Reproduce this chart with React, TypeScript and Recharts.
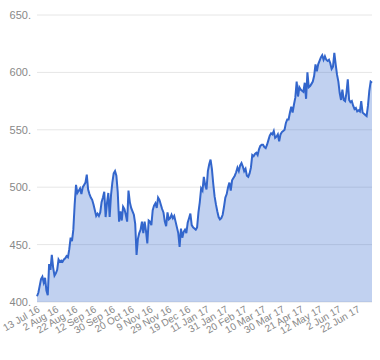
import { AreaChart, Area, XAxis, YAxis, CartesianGrid } from 'recharts';

const dateLabels = [
  '13 Jul 16', '2 Aug 16', '22 Aug 16', '12 Sep 16', '30 Sep 16', '20 Oct 16',
  '9 Nov 16', '29 Nov 16', '19 Dec 16', '11 Jan 17', '31 Jan 17', '20 Feb 17',
  '10 Mar 17', '30 Mar 17', '21 Apr 17', '12 May 17', '2 Jun 17', '22 Jun 17',
];

// one close per trading day, starting 13 Jul 16
const closes = [
  405, 408, 414, 420, 422, 417, 421, 410, 406, 433,
  428, 441, 430, 423, 425, 428, 437, 435, 436, 435,
  437, 438, 440, 439, 446, 456, 453, 463, 485, 502,
  495, 497, 499, 494, 500, 502, 504, 511, 498, 494,
  491, 489, 485, 480, 475, 477, 475, 478, 487, 491,
  496, 474, 486, 495, 474, 493, 504, 512, 514, 510,
  496, 470, 479, 471, 483, 481, 476, 470, 497, 487,
  482, 479, 476, 468, 441, 455, 460, 463, 470, 460,
  470, 462, 451, 471, 470, 467, 480, 484, 486, 482,
  491, 489, 485, 481, 478, 470, 466, 478, 472, 473,
  476, 473, 475, 470, 465, 460, 448, 464, 456, 461,
  463, 460, 469, 473, 477, 467, 465, 464, 463, 465,
  478, 487, 499, 497, 509, 502, 498, 514, 520, 524,
  516, 503, 492, 485, 479, 474, 472, 473, 476, 483,
  491, 494, 500, 504, 497, 506, 508, 510, 513, 517,
  514, 519, 521, 518, 514, 516, 510, 509, 512, 517,
  528, 527, 529, 530, 528, 533, 536, 537, 537, 535,
  534, 537, 541, 545, 547, 546, 549, 543, 544, 546,
  540, 546, 548, 549, 550, 556, 559, 559, 565, 570,
  565, 572, 578, 592, 579, 587, 585, 584, 583, 591,
  577, 600, 587, 588, 590, 592, 597, 607, 601, 607,
  610, 613, 615, 611, 614, 611, 610, 611, 608, 603,
  605, 617, 607, 598, 592, 582, 576, 585, 576, 575,
  582, 594, 576, 574, 575, 571, 568, 569, 566, 567,
  566, 575, 565, 564, 563, 562, 571, 584, 592, 591,
];

const yTicks = [400, 450, 500, 550, 600, 650];
const labelStep = 14;

const data = closes.map((v, i) => ({ i, v }));
const xTicks = dateLabels.map((_, k) => k * labelStep);

const font = 'Arial, "Liberation Sans", sans-serif';

export default function App() {
  return (
    <div style={{ position: 'fixed', left: 0, top: 0, background: '#fff' }}>
      <AreaChart width={380} height={360} data={data} margin={{ top: 15, right: 8, left: 0, bottom: 0 }}>
        <CartesianGrid vertical={false} stroke="#e6e6e6" />
        <XAxis
          dataKey="i"
          type="number"
          domain={[0, closes.length - 1]}
          ticks={xTicks}
          interval={0}
          height={58}
          axisLine={false}
          tickLine={false}
          tickSize={3}
          tickMargin={0}
          angle={-30}
          textAnchor="end"
          tick={{ fill: '#888', fontSize: 10, fontFamily: font }}
          tickFormatter={(v) => dateLabels[Math.round(v / labelStep)]}
        />
        <YAxis
          domain={[400, 650]}
          ticks={yTicks}
          width={37}
          axisLine={false}
          tickLine={false}
          tickMargin={0}
          tick={{ fill: '#888', fontSize: 11, fontFamily: font }}
          tickFormatter={(v) => `${v}.`}
        />
        <Area
          type="linear"
          dataKey="v"
          stroke="#3366cc"
          strokeWidth={2}
          fill="#3366cc"
          fillOpacity={0.3}
          baseValue={400}
          dot={false}
          activeDot={false}
          isAnimationActive={false}
        />
      </AreaChart>
    </div>
  );
}
